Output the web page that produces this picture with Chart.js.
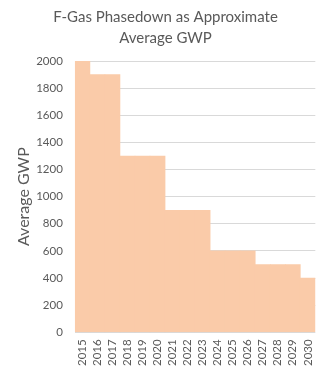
<!DOCTYPE html>
<html>
<head>
<meta charset="utf-8">
<script src="https://cdn.jsdelivr.net/npm/chart.js@4/dist/chart.umd.min.js"></script>
<style>
	body { margin: 0; background: #fff; }
	#wrap { width: 329px; height: 374px; }
</style>
</head>
<body>
<div id="wrap"><canvas id="gwpChart" width="329" height="374"></canvas></div>
<script>
const years = ['2015', '2016', '2017', '2018', '2019', '2020', '2021', '2022',
	'2023', '2024', '2025', '2026', '2027', '2028', '2029', '2030'];
const avgGwp = [2000, 1900, 1900, 1300, 1300, 1300, 900, 900,
	900, 600, 600, 600, 500, 500, 500, 400];

const textColor = '#595959';
const fontFamily = 'Lato, "Open Sans", sans-serif';

const ctx = document.getElementById('gwpChart').getContext('2d');
const gwpChart = new Chart(ctx, {
	type: 'bar',
	data: {
		labels: years,
		datasets: [{
			label: 'Average GWP',
			data: avgGwp,
			backgroundColor: '#FACBA9',
			borderWidth: 0,
			categoryPercentage: 1,
			barPercentage: 1
		}]
	},
	options: {
		responsive: false,
		animation: false,
		layout: {
			padding: { top: 2, right: 12, bottom: 1, left: 14 }
		},
		scales: {
			x: {
				grid: { display: false, drawTicks: false },
				border: { display: false },
				ticks: {
					color: textColor,
					font: { family: fontFamily, size: 11.5 },
					minRotation: 90,
					maxRotation: 90,
					autoSkip: false,
					padding: 7
				}
			},
			y: {
				min: 0,
				max: 2000,
				grid: { color: '#D9D9D9', drawTicks: false },
				border: { display: false },
				ticks: {
					stepSize: 200,
					color: textColor,
					font: { family: fontFamily, size: 11.5 },
					padding: 12,
					callback: value => String(value)
				},
				title: {
					display: true,
					text: 'Average GWP',
					color: textColor,
					font: { family: fontFamily, size: 16 },
					// tick padding is reserved on both sides of the labels, so pull the title in
					padding: { top: 0, bottom: -9 }
				}
			}
		},
		plugins: {
			legend: { display: false },
			tooltip: { enabled: false },
			title: {
				display: true,
				text: ['F-Gas Phasedown as Approximate', 'Average GWP'],
				color: textColor,
				font: { family: fontFamily, size: 15, weight: 'normal', lineHeight: 1.4 },
				padding: { top: 5, bottom: 12 }
			}
		}
	}
});
</script>
</body>
</html>
